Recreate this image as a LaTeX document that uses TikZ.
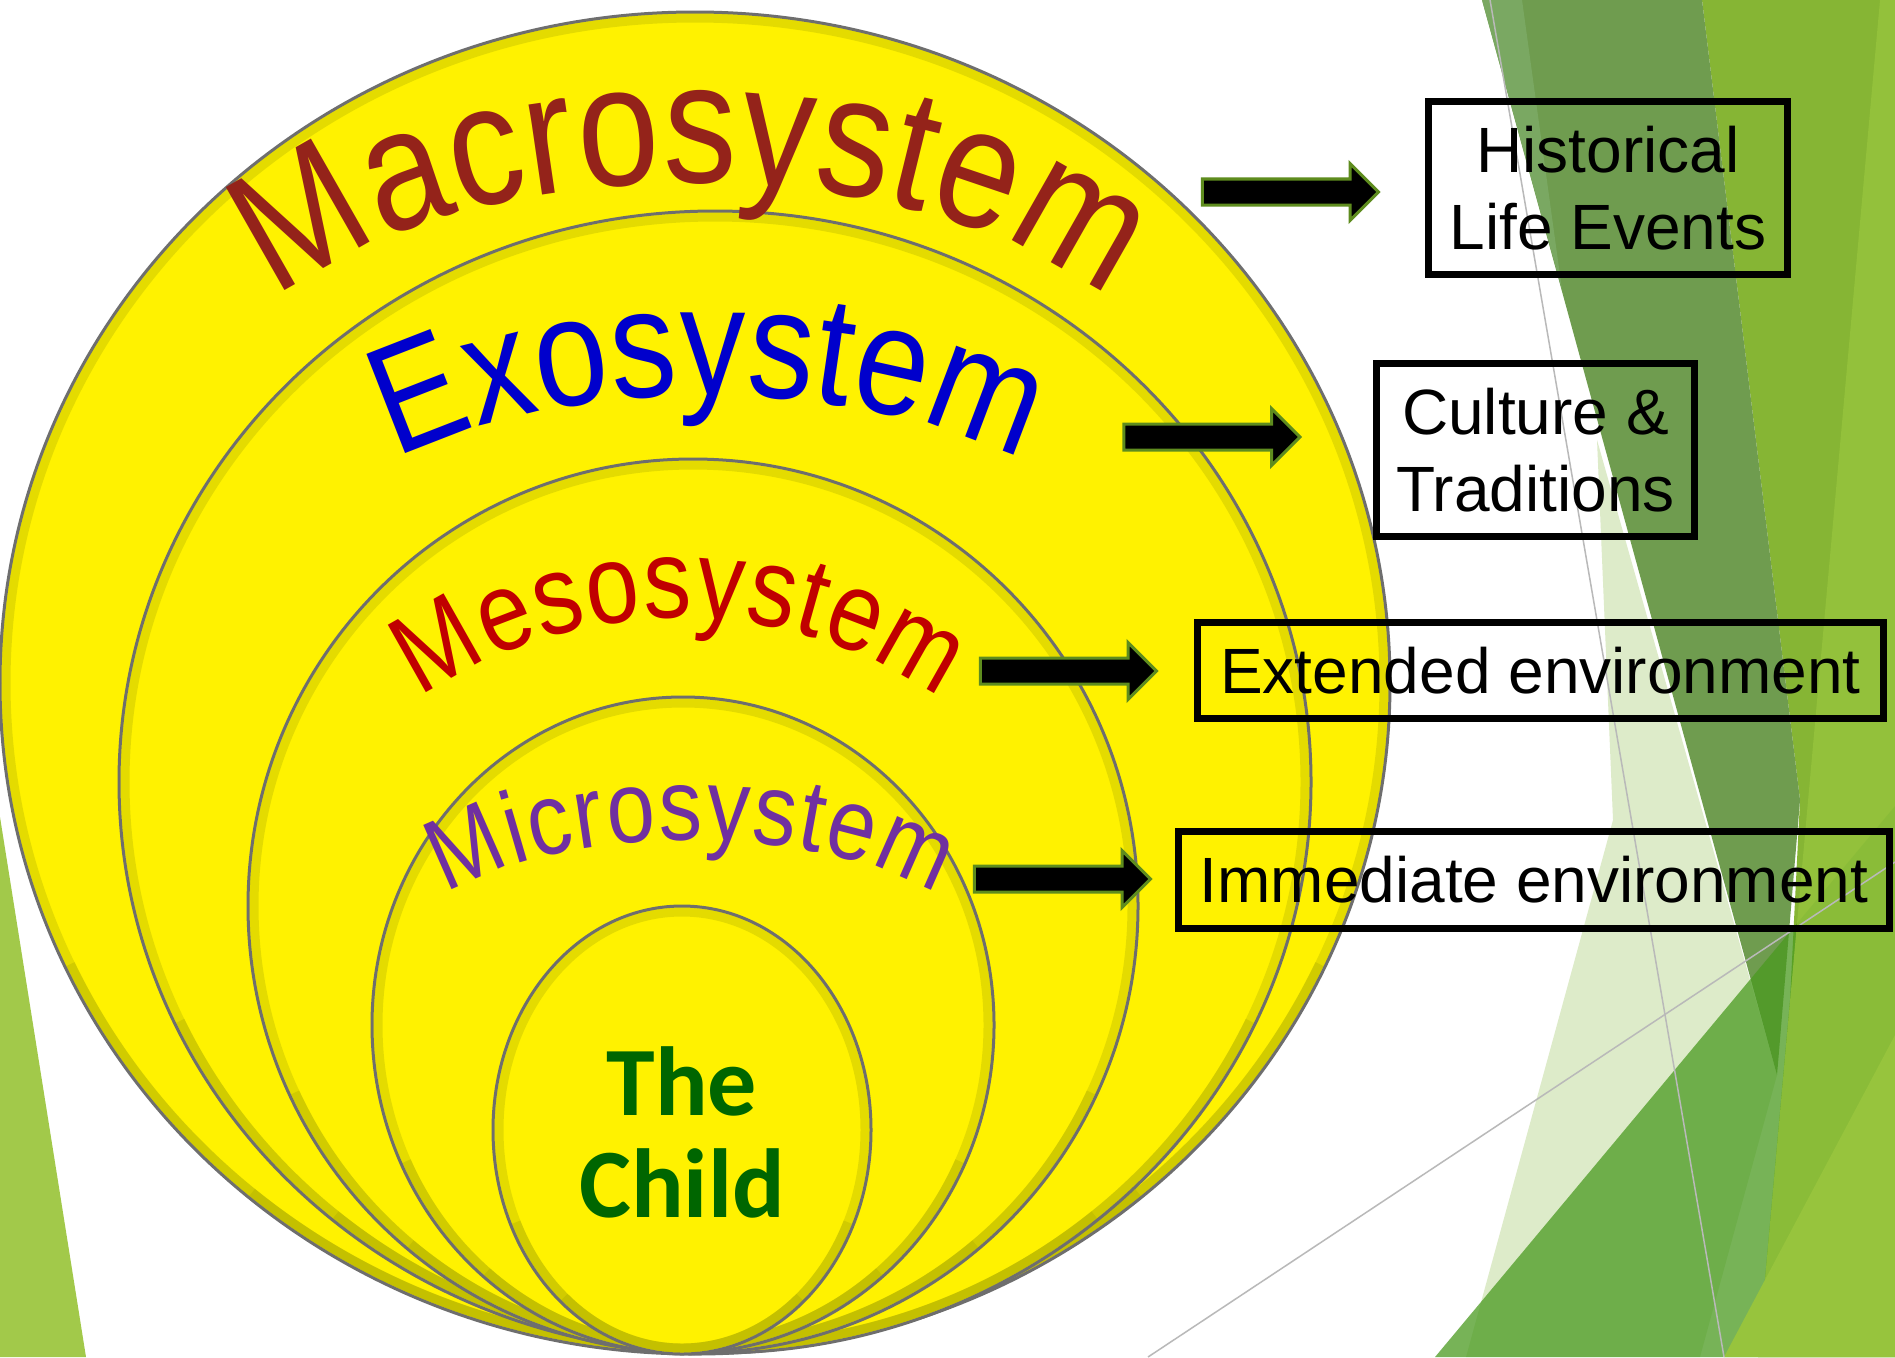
\documentclass[tikz,border=0pt]{standalone}
\usepackage{fontspec}
\usetikzlibrary{positioning,shapes.arrows,decorations.text}
\newfontfamily\arialfont{Liberation Sans}
\newfontfamily\archfont[FakeStretch=0.85]{Liberation Sans}
\newfontfamily\childfont{Carlito}
\definecolor{macrored}{HTML}{94231A}
\definecolor{exoblue}{HTML}{0000CC}
\definecolor{mesored}{HTML}{C00000}
\definecolor{micropurple}{HTML}{7030A0}
\definecolor{childgreen}{HTML}{006600}
\definecolor{arrowgreen}{HTML}{5E8C1E}
\definecolor{rimgray}{HTML}{6E6E6E}
\definecolor{bevelolive}{HTML}{A8A800}
\definecolor{facetBright}{HTML}{86B534}
\definecolor{facetLime}{HTML}{97C43D}
\definecolor{facetDark}{HTML}{6F9C4F}
\definecolor{facetMid}{HTML}{7AA862}
\definecolor{facetPale}{HTML}{DDEBC9}
\definecolor{facetLeaf}{HTML}{4A9A20}
\definecolor{facetLeft}{HTML}{A2C94A}

\begin{document}
\begin{tikzpicture}
[x=0.01cm, y=-0.01cm,
Sphere/.style={fill=yellow},
Rim/.style={draw=rimgray, line width=0.03cm},
Bevel/.style={draw=bevelolive, line width=0.09cm, opacity=0.3},
ArchLabel/.style n args={3}{decorate, decoration={text along path, text align=fit to path, text color=#1, text={|\archfont\fontsize{#2}{#2}\selectfont|#3}}},
EnvBox/.style={rectangle, draw=black, line width=0.07cm, align=center, inner sep=0pt, font=\arialfont\fontsize{18.2}{21.9}\selectfont},
BlockArrow/.style={single arrow, fill=black, draw=arrowgreen, line width=0.03cm, minimum height=1.76cm, inner sep=0.115cm, single arrow head extend=0.155cm, single arrow tip angle=90},
ThinLine/.style={draw=gray!55, line width=0.015cm}]

\useasboundingbox (0,0) rectangle (1895,1357);

% background facets
\fill[white] (0,0) rectangle (1895,1357);
\fill[facetBright] (1702,0) -- (1895,0) -- (1895,1357) -- (1758,1357) -- (1790,1000) -- (1800,800) -- cycle;
\fill[facetPale] (1597,440) -- (1777,1075) -- (1700,1357) -- (1466,1357) -- (1613,820) -- cycle;
\fill[facetDark] (1482,0) -- (1702,0) -- (1800,800) -- (1777,1075) -- cycle;
\fill[facetMid] (1482,0) -- (1522,0) -- (1562,290) -- cycle;
\fill[facetLeaf, opacity=0.75] (1435,1357) -- (1895,806) -- (1895,1357) -- cycle;
\fill[facetLime, opacity=0.8] (1880,0) -- (1895,0) -- (1895,1357) -- (1758,1357) -- cycle;
\fill[facetLime] (1724,1357) -- (1895,1035) -- (1895,1357) -- cycle;
\fill[facetLeft] (0,817) -- (86,1357) -- (0,1357) -- cycle;
\draw[ThinLine] (1490,0) -- (1724,1357);
\draw[ThinLine] (1148,1357) -- (1895,862);

% nested systems
\foreach \cx/\cy/\rx/\ry in {695/683/695/671, 715/782/596/571, 693/906/445/447, 683/1025/311/328, 682/1130/189/224}{
  \fill[Sphere] (\cx,\cy) ellipse [x radius=\rx, y radius=\ry];
  \draw[Bevel] (\cx,\cy) ellipse [x radius=\rx-6, y radius=\ry-6];
  \draw[Bevel] (\cx,\cy) ++(25:{\rx-6} and {\ry-6}) arc [start angle=25, end angle=155, x radius=\rx-6, y radius=\ry-6];
  \draw[Bevel] (\cx,\cy) ++(50:{\rx-6} and {\ry-6}) arc [start angle=50, end angle=130, x radius=\rx-6, y radius=\ry-6];
  \draw[Rim] (\cx,\cy) ellipse [x radius=\rx, y radius=\ry];
}

% arched labels
\path[ArchLabel={macrored}{49pt}{Macrosystem}] (692,432) ++(-148:489 and 249) arc [start angle=-148, end angle=-32, x radius=489, y radius=249];
\path[ArchLabel={exoblue}{44pt}{Exosystem}] (706,613) ++(-135:438 and 218) arc [start angle=-135, end angle=-45, x radius=438, y radius=218];
\path[ArchLabel={mesored}{32pt}{Mesosystem}] (680,1077) ++(-124.4:459 and 459) arc [start angle=-124.4, end angle=-55.6, radius=459];
\path[ArchLabel={micropurple}{29pt}{Microsystem}] (691,965) ++(-146:295 and 125) arc [start angle=-146, end angle=-34, x radius=295, y radius=125];

% centre
\node[align=center, text=childgreen, font=\childfont\bfseries\fontsize{27.9}{29}\selectfont] (child) at (682,1132) {The\\Child};

% environments
\node[EnvBox, minimum width=3.59cm, minimum height=1.73cm] (hist) at (1608,188) {Historical\\Life Events};
\node[EnvBox, minimum width=3.18cm, minimum height=1.73cm] (cult) at (1535.5,450) {Culture \&\\Traditions};
\node[EnvBox, minimum width=6.86cm, minimum height=0.96cm] (ext) at (1540.5,670.5) {Extended environment};
\node[EnvBox, minimum width=7.11cm, minimum height=0.97cm] (imm) at (1534,880) {Immediate environment};

% arrows
\node[BlockArrow] (a1) at (1284,192) {};
\node[BlockArrow] (a2) at (1205.5,437) {};
\node[BlockArrow] (a3) at (1062,671) {};
\node[BlockArrow] (a4) at (1056,879) {};

\end{tikzpicture}
\end{document}
